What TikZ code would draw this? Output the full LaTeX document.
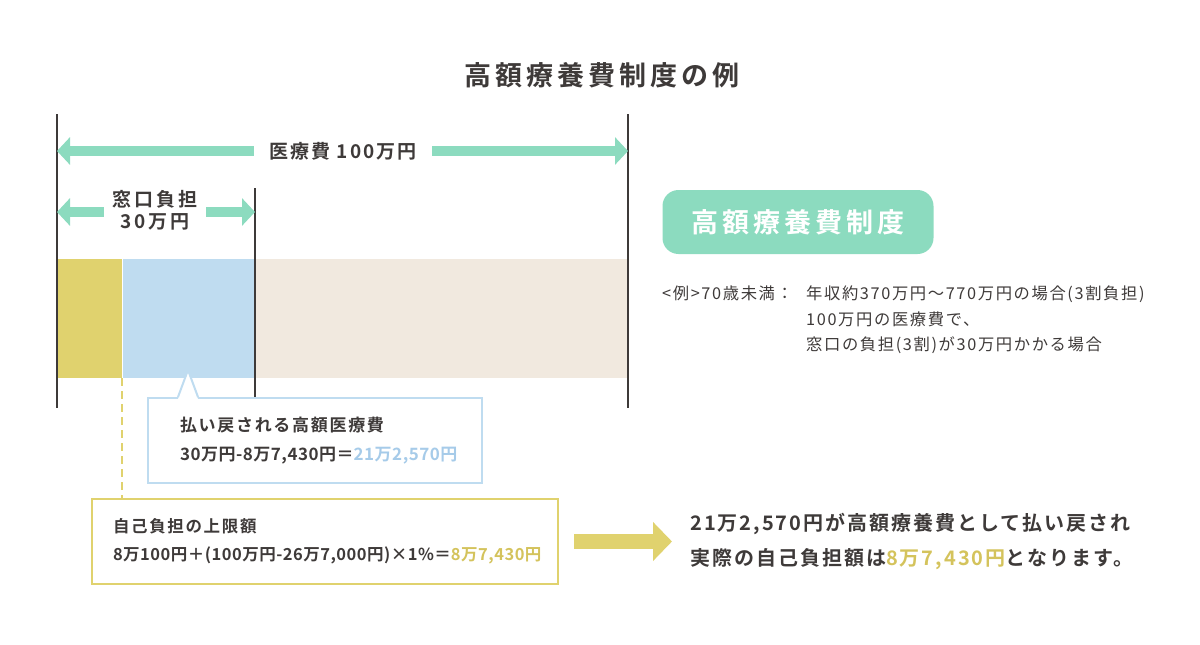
\documentclass[tikz,border=0pt]{standalone}
\usepackage{fontspec}
\setmainfont{Noto Sans CJK JP}[BoldFont={Noto Sans CJK JP Bold}]
\newfontfamily\jpwide{Noto Sans CJK JP}[LetterSpace=15, BoldFont={Noto Sans CJK JP Bold}]
\newfontfamily\jpmid{Noto Sans CJK JP}[LetterSpace=10, BoldFont={Noto Sans CJK JP Bold}]
\newfontfamily\jptight{Noto Sans CJK JP}[LetterSpace=3, BoldFont={Noto Sans CJK JP Bold}]
\usepackage{xcolor}
\usetikzlibrary{calc, arrows.meta}

\definecolor{ink}{HTML}{3E3A39}
\definecolor{mint}{HTML}{8CDBBF}
\definecolor{mustard}{HTML}{E0D26E}
\definecolor{mustardtext}{HTML}{D4C35C}
\definecolor{sky}{HTML}{BFDCF0}
\definecolor{skytext}{HTML}{A6CBE9}
\definecolor{sand}{HTML}{F1E9DF}

\tikzset{
  heading/.style={font=\jpwide\bfseries\fontsize{27}{32}\selectfont, text=ink, inner sep=0},
  badge/.style={fill=mint, rounded corners=16pt, minimum width=271pt, minimum height=64pt,
    font=\jpwide\bfseries\fontsize{27}{32}\selectfont, text=white},
  rule/.style={draw=ink, line width=2pt},
  band/.style={anchor=north west, inner sep=0, minimum height=119pt},
  mintarrow/.style={draw=mint, line width=10pt, -{Triangle[length=13pt, width=27pt]}},
  mustardarrow/.style={draw=mustard, line width=15pt, -{Triangle[length=19pt, width=38pt]}},
  span label/.style={font=\jpmid\bfseries\fontsize{19}{21}\selectfont, text=ink, inner xsep=16pt},
  callout/.style={anchor=north west, fill=white, line width=2pt, minimum height=85pt,
    align=left, text=ink},
  note/.style={font=\jpmid\fontsize{16.3}{25.5}\selectfont, text=ink, inner sep=0, anchor=north west, align=left}
}

\begin{document}
\begin{tikzpicture}[x=1pt, y=-1pt]
\useasboundingbox (0,0) rectangle (1200,645);

\node[heading] (title) at (602,75) {高額療養費制度の例};

% bar
\node[band, fill=mustard, minimum width=65pt] (own) at (57,259) {};
\node[band, fill=sky, minimum width=133pt] (back) at (own.north east) {};
\node[band, fill=sand, minimum width=373pt] (rest) at (back.north east) {};

\coordinate (ltop) at (57,114);
\coordinate (mtop) at (255,188);
\coordinate (rtop) at (628,114);
\draw[rule] (ltop) -- ++(0,294);
\draw[rule] (mtop) -- ++(0,220);
\draw[rule] (rtop) -- ++(0,294);

\node[span label] (cost) at (343,151) {医療費 100万円};
\draw[mintarrow] (cost.west) -- (cost.west -| ltop);
\draw[mintarrow] (cost.east) -- (cost.east -| rtop);

\coordinate (wl) at (57,212);
\node[span label, align=center, inner xsep=9pt, font=\jpwide\bfseries\fontsize{19}{22}\selectfont] (window) at (155,210) {窓口負担\\30万円};
\draw[mintarrow] (window.west |- wl) -- (wl);
\draw[mintarrow] (window.east |- wl) -- (wl -| mtop);

% callouts
\node[callout, draw=sky, text width=270pt, inner xsep=32pt,
  font=\jpmid\bfseries\fontsize{17}{29}\selectfont] (refund) at (147,397)
  {払い戻される高額医療費\\\mbox{\jptight 30万円-8万7,430円＝\textcolor{skytext}{21万2,570円}}};
\coordinate (tip) at (188,370);
\fill[white] ([xshift=31pt,yshift=-2pt]refund.north west) -- (tip) -- ([xshift=51pt,yshift=-2pt]refund.north west) -- cycle;
\draw[sky, line width=2pt] ([xshift=31pt]refund.north west) -- (tip) -- ([xshift=51pt]refund.north west);

\node[callout, draw=mustard, text width=424pt, inner xsep=21pt,
  font=\jpmid\bfseries\fontsize{16.5}{28}\selectfont] (limit) at (91,498)
  {自己負担の上限額\\\mbox{\jptight 8万100円＋(100万円-26万7,000円)×1\%＝\textcolor{mustardtext}{8万7,430円}}};
\draw[mustard, line width=2pt, dash pattern=on 8pt off 5pt] (own.south east) -- (own.south east |- limit.north);

\node[anchor=west, align=left, text=ink, inner sep=0,
  font=\jpmid\bfseries\fontsize{20}{35}\selectfont] (result) at (690,541)
  {21万2,570円が高額療養費として払い戻され\\実際の自己負担額は\textcolor{mustardtext}{8万7,430円}となります。};
\draw[mustardarrow] ([xshift=15pt]limit.east) -- ([xshift=-18pt]result.west |- limit.east);

% right panel
\node[badge] (system) at (798,222) {高額療養費制度};
\node[note] (example) at (662,286) {<例>70歳未満：};
\node[note] (detail) at (806,286)
  {年収約370万円〜770万円の場合(3割負担)\\100万円の医療費で、\\窓口の負担(3割)が30万円かかる場合};
\end{tikzpicture}
\end{document}
